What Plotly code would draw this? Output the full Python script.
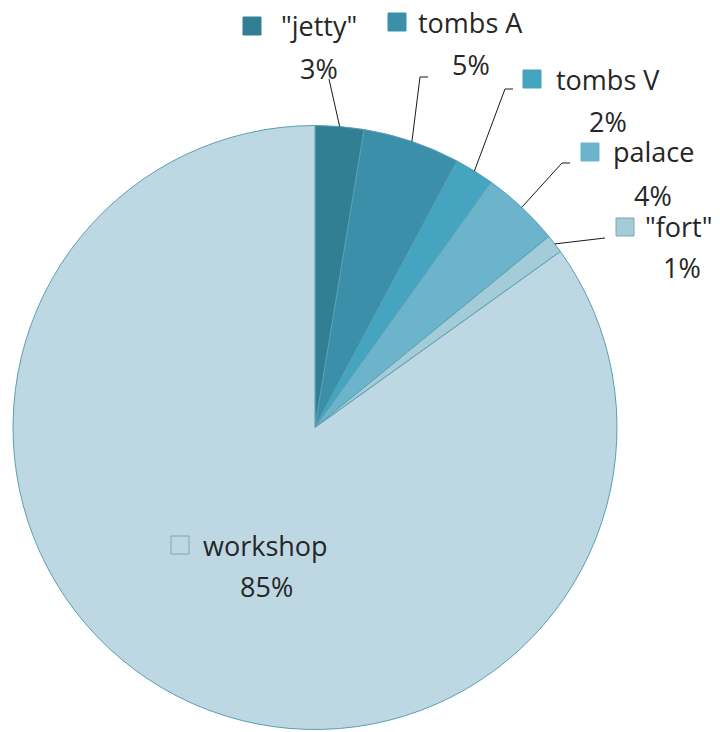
import math
import plotly.graph_objects as go

# ---- data ----
labels = ['"jetty"', 'tombs A', 'tombs V', 'palace', '"fort"', 'workshop']
values = [2.6, 5.2, 2.1, 4.2, 1.0, 84.9]
colors = ['#327e92', '#3b8fa9', '#45a4c0', '#6cb4cc', '#a3cbd8', '#bed8e3']

# ---- layout geometry (screen pixels; page body has an 8px margin) ----
OFF = 8
W, H = 712, 724
CX, CY, R = 315, 427.5, 302

# per label: square left, square centre y, text left, pct centre x, pct centre y, leader waypoints
label_layout = [
    dict(sq=243, sy=26, tx=279, px=319, py=68, lead=[(329, 79)]),
    dict(sq=388, sy=22, tx=416, px=471, py=65, lead=[(428, 77), (420, 77)]),
    dict(sq=523, sy=79, tx=554, px=608, py=121, lead=[(513, 89), (505, 89)]),
    dict(sq=581, sy=152, tx=611, px=653, py=195, lead=[(570, 163), (562, 163)]),
    dict(sq=616, sy=227, tx=643, px=682, py=267, lead=[(605, 238)]),
    dict(sq=171, sy=545, tx=201, px=266, py=586, lead=[]),
]
SQ = 18
FONT = dict(family="Open Sans", size=27, color="#262626")


def px2x(px):
    return (px - OFF) / W


def py2y(py):
    return 1 - (py - OFF) / H


total = sum(values)
fig = go.Figure(go.Pie(
    labels=labels,
    values=values,
    sort=False,
    direction="clockwise",
    rotation=0,
    textinfo="none",
    marker=dict(colors=colors, line=dict(color="#5a9fb2", width=1)),
    domain=dict(x=[px2x(CX - R), px2x(CX + R)], y=[py2y(CY + R), py2y(CY - R)]),
    showlegend=False,
))

annotations = []
shapes = []
cum = 0.0
for lab, v, c, L in zip(labels, values, colors, label_layout):
    mid = (cum + v / 2) / total * 2 * math.pi
    cum += v
    ex = CX + R * math.sin(mid)
    ey = CY - R * math.cos(mid)
    pct = f"{round(v / total * 100)}%"
    # legend key square
    shapes.append(dict(type="rect", xref="paper", yref="paper",
                       x0=px2x(L["sq"]), x1=px2x(L["sq"] + SQ),
                       y0=py2y(L["sy"] + SQ / 2), y1=py2y(L["sy"] - SQ / 2),
                       fillcolor=c, line=dict(color="#7fa8b4" if v < 2 or v > 50 else c, width=1)))
    annotations.append(dict(text=lab, xref="paper", yref="paper", x=px2x(L["tx"]), y=py2y(L["sy"]),
                            xanchor="left", yanchor="middle", showarrow=False, font=FONT))
    annotations.append(dict(text=pct, xref="paper", yref="paper", x=px2x(L["px"]), y=py2y(L["py"]),
                            xanchor="center", yanchor="middle", showarrow=False, font=FONT))
    if L["lead"]:
        pts = L["lead"] + [(ex, ey)]
        path = "M " + " L ".join(f"{px2x(a):.5f},{py2y(b):.5f}" for a, b in pts)
        shapes.append(dict(type="path", xref="paper", yref="paper", path=path,
                           line=dict(color="#1a1a1a", width=1)))

fig.update_layout(
    width=W, height=H,
    margin=dict(l=0, r=0, t=0, b=0),
    paper_bgcolor="white", plot_bgcolor="white",
    annotations=annotations, shapes=shapes,
)
fig.write_html("out.html")
